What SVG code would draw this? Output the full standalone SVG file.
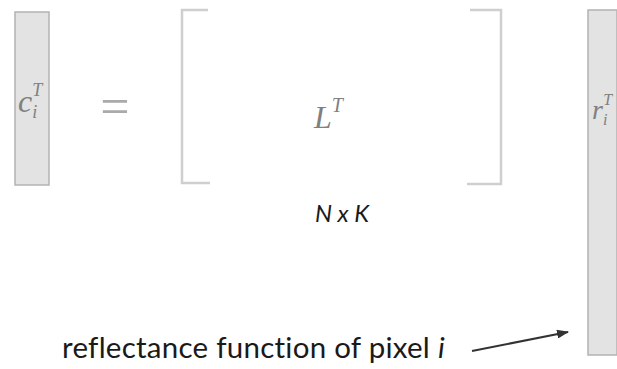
<svg xmlns="http://www.w3.org/2000/svg" width="617" height="369" viewBox="0 0 617 369">
<style>
.vec{fill:#e3e3e3;stroke:#b3b3b3;stroke-width:1.5}
.math{font-family:"Liberation Serif",serif;font-style:italic;fill:#808080}
.br{fill:none;stroke:#cfcfcf;stroke-width:2.5}
.sans{font-family:Lato,"Open Sans",sans-serif;fill:#1a1a1a;font-variant-ligatures:none}
</style>
<defs>
<marker id="ah" markerWidth="12" markerHeight="9" refX="11" refY="4.5" orient="auto" markerUnits="userSpaceOnUse">
<path d="M0,0 L12,4.5 L0,9 z" fill="#333"/>
</marker>
</defs>
<rect width="617" height="369" fill="#fff"/>
<g id="c-vector">
<rect class="vec" x="15" y="12" width="34" height="173"/>
<text class="math" x="18" y="112" font-size="32">c<tspan font-size="18" dy="6">i</tspan><tspan font-size="18" dx="-5" dy="-22">T</tspan></text>
</g>
<g id="equals">
<text x="115" y="124" font-family="Liberation Serif,serif" font-size="52" fill="#aaa" text-anchor="middle">=</text>
</g>
<g id="L-matrix">
<path class="br" d="M208,10 H182 V183 H210"/>
<path class="br" d="M470,10 H501 V184 H467"/>
<text class="math" x="314" y="128" font-size="32">L<tspan font-size="20" dy="-16">T</tspan></text>
<text class="sans" x="342" y="222" font-size="24" font-style="italic" text-anchor="middle" fill="#111">N x K</text>
</g>
<g id="r-vector">
<rect class="vec" x="588" y="10" width="29" height="345"/>
<text class="math" x="592" y="119" font-size="28">r<tspan font-size="16" dy="6">i</tspan><tspan font-size="16" dx="-4" dy="-20">T</tspan></text>
</g>
<g id="label">
<text class="sans" x="62" y="358" font-size="29.5" letter-spacing="0.25">reflectance function of pixel <tspan font-style="italic">i</tspan></text>
</g>
<g id="connectors">
<line x1="472" y1="351" x2="568" y2="332" stroke="#333" stroke-width="2" marker-end="url(#ah)"/>
</g>
</svg>
